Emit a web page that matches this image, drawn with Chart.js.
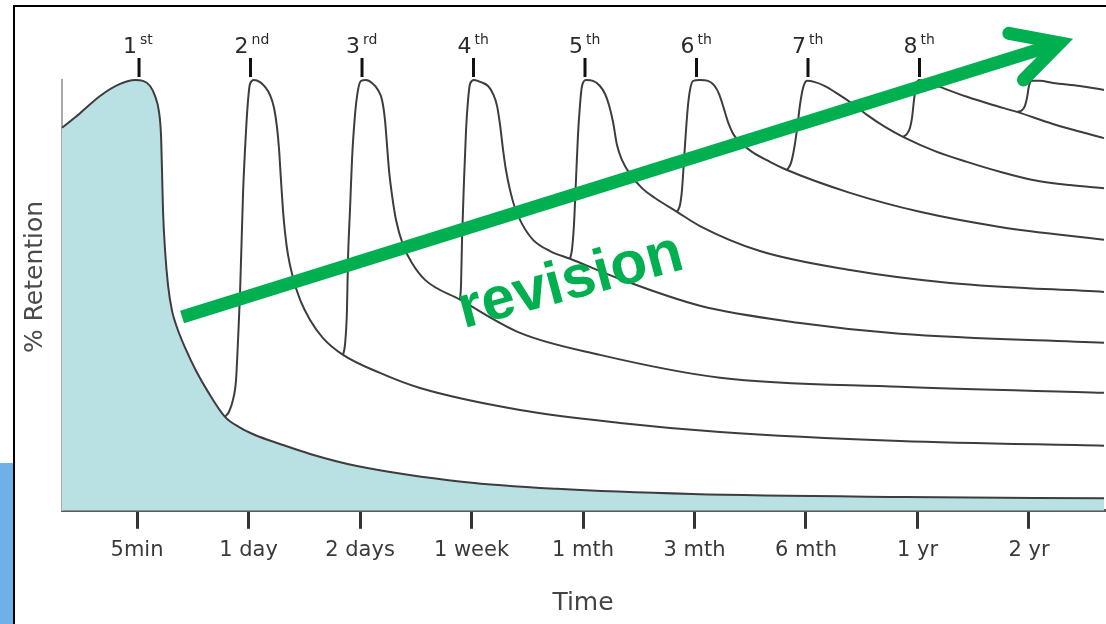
<!DOCTYPE html>
<html>
<head>
<meta charset="utf-8">
<script src="https://cdn.jsdelivr.net/npm/chart.js@4.4.1/dist/chart.umd.min.js"></script>
<style>
html,body{margin:0;padding:0;background:#fff;}
#wrap{position:relative;width:1106px;height:624px;overflow:hidden;background:#fff;}
#c{position:absolute;left:0;top:0;}
.frameL{position:absolute;left:13px;top:5px;width:2px;height:619px;background:#000;}
.frameT{position:absolute;left:13px;top:5px;width:1093px;height:2px;background:#000;}
.blue{position:absolute;left:0;top:463px;width:13px;height:161px;background:#70b0e8;}
</style>
</head>
<body>
<div id="wrap">
<canvas id="c" width="1106" height="624"></canvas>
<div class="blue"></div><div class="frameL"></div><div class="frameT"></div>
</div>
<script>
// ---- labels ----
const timeLabels = ['5min', '1 day', '2 days', '1 week', '1 mth', '3 mth', '6 mth', '1 yr', '2 yr'];
const reviewNumbers = ['1', '2', '3', '4', '5', '6', '7', '8'];
const reviewSuffixes = ['st', 'nd', 'rd', 'th', 'th', 'th', 'th', 'th'];
const xAxisTitle = 'Time';
const yAxisTitle = '% Retention';
const annotationText = 'revision';

// ---- curves: x = position on time axis (0 = 5min, 1 = 1 day ...), y = % retention ----
const baseX = [-0.673,-0.511,-0.332,-0.152,-0.018,0.054,0.117,0.161,0.197,0.215,0.224,0.233,0.251,0.278,0.314,0.359,0.439,0.529,0.637,0.789,0.924,1.058,1.283,1.552,1.973,2.933,3.767,4.978,6.888,8.673];
const baseY = [88.9,92.3,96.3,99.1,100,99.8,98.6,96.3,92.6,87.2,79.1,69.8,60.6,52.4,46.4,42.5,37.4,32.5,27.6,21.8,19.3,17.6,15.5,13.2,10.4,6.7,5.1,3.9,3.2,2.9];

const review1X = [0.789,0.825,0.861,0.888,0.906,0.924,0.951,0.978,0.996,1.013,1.049,1.103,1.148,1.193,1.229,1.256,1.274,1.291,1.309,1.327,1.354,1.399,1.462,1.552,1.668,1.848,2.179,2.538,3.435,4.332,5.229,6.843,8.673];
const review1Y = [21.8,23.0,25.8,30.4,39.7,50.6,73.8,88.4,95.4,99.1,100,99.5,98.4,96.5,93.5,88.9,83.8,76.8,69.8,64.7,59.4,54.1,49.0,44.3,40.1,36.2,32.0,28.5,23.4,20.4,18.3,16.2,15.1];

const review2X = [1.848,1.865,1.883,1.892,1.910,1.928,1.955,1.982,2.009,2.054,2.108,2.161,2.197,2.224,2.242,2.260,2.287,2.323,2.386,2.466,2.583,2.897,3.435,4.152,5.229,6.843,8.673];
const review2Y = [36.2,38.5,46.6,58.2,69.8,81.4,91.9,97.7,99.8,100,99.3,97.7,95.4,90.7,84.9,79.1,73.3,67.5,61.7,57.5,53.6,49.0,41.3,36.2,30.9,28.8,27.4];

const review3X = [2.897,2.906,2.915,2.933,2.951,2.969,2.987,3.022,3.085,3.148,3.193,3.229,3.256,3.283,3.309,3.345,3.390,3.453,3.552,3.704,3.883,4.332,5.049,5.946,6.843,8.673];
const review3Y = [49.0,52.4,62.9,76.8,88.4,95.4,99.1,100,99.5,98.6,96.8,94.0,89.6,83.8,79.1,74.5,70.3,66.6,62.9,60.3,58.5,53.8,47.6,43.6,41.1,39.0];

const review4X = [3.883,3.901,3.919,3.937,3.955,3.973,3.991,4.027,4.090,4.152,4.197,4.233,4.269,4.305,4.350,4.422,4.529,4.646,4.843,5.049,5.587,6.395,7.291,8.673];
const review4Y = [58.5,60.6,66.4,76.8,87.2,94.2,98.6,100,99.8,98.6,96.8,94.2,90.3,84.9,81.4,78.2,74.9,72.6,69.4,66.1,60.3,55.9,52.9,50.8];

const review5X = [4.843,4.870,4.888,4.906,4.924,4.942,4.960,4.987,5.049,5.121,5.175,5.220,5.256,5.300,5.354,5.426,5.516,5.677,5.830,6.395,7.022,7.740,8.673];
const review5Y = [69.4,71.0,74.5,81.4,88.4,94.2,97.7,99.8,100,99.8,98.8,96.8,94.0,90.3,87.2,85.2,83.3,81.0,79.1,73.8,69.4,65.9,62.9];

const review6X = [5.830,5.865,5.892,5.919,5.946,5.973,6.009,6.081,6.170,6.260,6.395,6.547,6.709,6.870,7.157,7.444,7.740,8.036,8.368,8.673];
const review6Y = [79.1,80.7,83.8,88.4,94.2,98.1,99.8,99.5,98.6,97.2,94.9,91.9,89.1,86.8,83.5,81.0,78.7,76.8,75.6,74.9];

const review7X = [6.870,6.906,6.933,6.951,6.969,6.987,7.013,7.112,7.202,7.444,7.677,7.892,8.215,8.673];
const review7Y = [86.8,87.5,88.9,91.2,95.4,98.6,100,99.3,98.4,96.1,94.2,92.6,89.8,86.5];

const review8X = [7.892,7.937,7.964,7.982,8.0,8.027,8.099,8.215,8.457,8.673];
const review8Y = [92.6,93.0,94.0,95.8,98.6,99.8,99.8,99.3,98.6,97.7];

// ---- annotation anchors (axis units) ----
const arrowTail = [0.404, 45.0];
const arrowHead = [8.278, 108.6];
const textAnchor = [3.928, 49.3];

const GREEN = '#00b050';
const LINE = '#3d3d3d';

const pts = (xs, ys) => xs.map((x, i) => ({ x: x, y: ys[i] }));
const reviewCurves = [
  [review1X, review1Y], [review2X, review2Y], [review3X, review3Y], [review4X, review4Y],
  [review5X, review5Y], [review6X, review6Y], [review7X, review7Y], [review8X, review8Y]
];

const datasets = [{
  data: pts(baseX, baseY), fill: 'origin', backgroundColor: '#b9e0e3', borderColor: LINE, clip: 4
}].concat(reviewCurves.map(c => ({
  data: pts(c[0], c[1]), fill: false, borderColor: LINE, clip: 4
})));

const overlay = {
  id: 'overlay',
  afterDraw(chart) {
    const ctx = chart.ctx, xs = chart.scales.x, ys = chart.scales.y;
    // y axis title
    ctx.save();
    ctx.fillStyle = '#4a4a4a';
    ctx.font = '25px "DejaVu Sans"';
    ctx.textAlign = 'center'; ctx.textBaseline = 'middle';
    ctx.translate(35, 277); ctx.rotate(-Math.PI / 2);
    ctx.fillText(yAxisTitle, 0, 0);
    ctx.restore();
    // review markers
    reviewNumbers.forEach((n, i) => {
      const px = xs.getPixelForValue(i) + 2;
      ctx.save();
      ctx.strokeStyle = '#111'; ctx.lineWidth = 3;
      ctx.beginPath(); ctx.moveTo(px, 58); ctx.lineTo(px, 77); ctx.stroke();
      ctx.fillStyle = '#2a2a2a';
      ctx.textBaseline = 'alphabetic';
      ctx.font = '22px "DejaVu Sans"'; ctx.textAlign = 'right';
      ctx.fillText(n, px - 2, 53);
      ctx.font = '14px "DejaVu Sans"'; ctx.textAlign = 'left';
      ctx.fillText(reviewSuffixes[i], px + 1, 44);
      ctx.restore();
    });
    // arrow
    const tx = xs.getPixelForValue(arrowTail[0]), ty = ys.getPixelForValue(arrowTail[1]);
    const hx = xs.getPixelForValue(arrowHead[0]), hy = ys.getPixelForValue(arrowHead[1]);
    const ang = Math.atan2(hy - ty, hx - tx);
    ctx.save();
    ctx.strokeStyle = GREEN; ctx.lineWidth = 13; ctx.lineCap = 'butt';
    ctx.beginPath(); ctx.moveTo(tx, ty); ctx.lineTo(hx, hy); ctx.stroke();
    const back = ang + Math.PI, L = 52, spread = 28 * Math.PI / 180;
    ctx.lineCap = 'round'; ctx.lineJoin = 'miter'; ctx.miterLimit = 10;
    ctx.beginPath();
    ctx.moveTo(hx + L * Math.cos(back + spread), hy + L * Math.sin(back + spread));
    ctx.lineTo(hx, hy);
    ctx.lineTo(hx + L * Math.cos(back - spread), hy + L * Math.sin(back - spread));
    ctx.stroke();
    ctx.restore();
    // revision text
    ctx.save();
    ctx.translate(xs.getPixelForValue(textAnchor[0]), ys.getPixelForValue(textAnchor[1]));
    ctx.rotate(-15 * Math.PI / 180);
    ctx.font = 'bold 60px "Liberation Sans"';
    ctx.fillStyle = GREEN; ctx.textAlign = 'center'; ctx.textBaseline = 'alphabetic';
    ctx.fillText(annotationText, 0, 0);
    ctx.restore();
  }
};

new Chart(document.getElementById('c'), {
  type: 'line',
  data: { datasets: datasets },
  options: {
    responsive: false,
    animation: false,
    layout: { padding: { top: 80, left: 22, right: 2, bottom: 0 } },
    plugins: { legend: { display: false }, tooltip: { enabled: false } },
    elements: {
      point: { radius: 0 },
      line: { borderWidth: 2, cubicInterpolationMode: 'monotone' }
    },
    scales: {
      x: {
        type: 'linear', min: -0.673, max: 8.673,
        afterBuildTicks: s => { s.ticks = timeLabels.map((_, i) => ({ value: i })); },
        ticks: {
          callback: (v, i) => timeLabels[i],
          font: { size: 21, family: 'DejaVu Sans' }, color: '#3a3a3a',
          padding: 9, maxRotation: 0, autoSkip: false
        },
        grid: { display: true, drawOnChartArea: false, drawTicks: true, tickLength: 18, color: '#333', lineWidth: 3 },
        border: { display: true, color: '#5a5a5a', width: 3 },
        title: { display: true, text: xAxisTitle, font: { size: 25, family: 'DejaVu Sans' }, color: '#444', padding: { top: 16, bottom: 6 } }
      },
      y: {
        min: 0, max: 100,
        ticks: { display: false },
        grid: { display: false },
        border: { display: true, color: '#a8a8a8', width: 2 },
        afterFit: s => { s.width = 40; }
      }
    }
  },
  plugins: [overlay]
});
</script>
</body>
</html>
